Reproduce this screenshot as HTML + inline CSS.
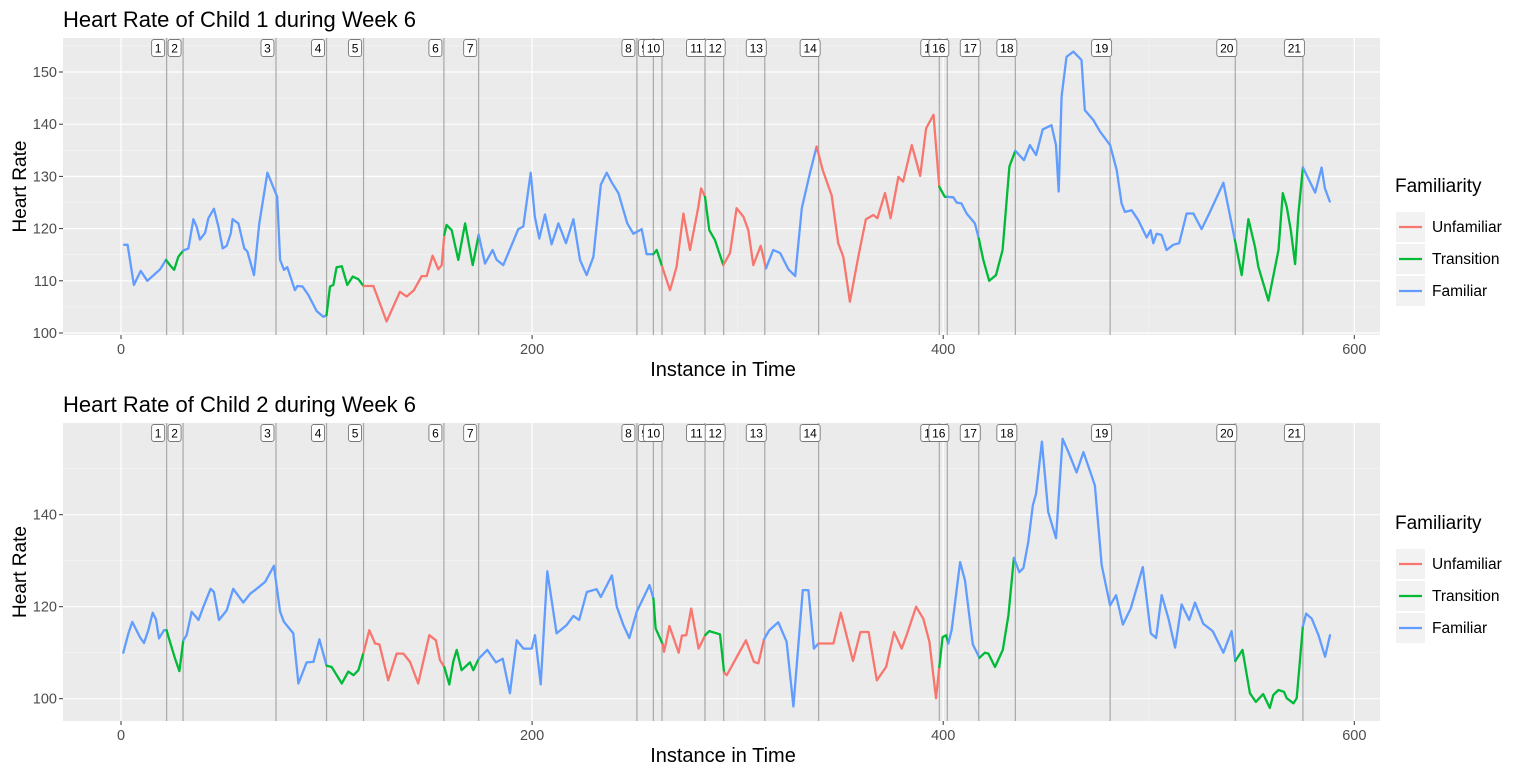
<!DOCTYPE html>
<html><head><meta charset="utf-8">
<style>
html,body{margin:0;padding:0;background:#fff;}
svg{display:block;font-family:"Liberation Sans",Arial,sans-serif;}
</style></head>
<body>
<svg id="chart" width="1535" height="772" viewBox="0 0 1535 772" xmlns="http://www.w3.org/2000/svg"></svg>
<script>
// ---- data ----
const xTicks = [0, 200, 400, 600];
const yTicks1 = [100, 110, 120, 130, 140, 150];
const yTicks2 = [100, 120, 140];
const eventX = [22.2,30.2,75.4,100,118,157.1,174,251,259,263.2,284.1,293.2,313.2,339.4,398.1,402,417.3,435.1,481.2,542.1,575];
const eventLabels = ["1","2","3","4","5","6","7","8","9","10","11","12","13","14","15","16","17","18","19","20","21"];
const categories = ["Unfamiliar","Transition","Familiar"];

const c1X = [1.5,3.2,6.3,9.6,12.8,16.5,19,21.9,
23.8,25.9,27.9,30.3,
32.8,35.2,36.8,38.4,40.9,42.5,45.2,47.4,49.5,51.4,53.4,54.3,57.1,60,61.5,64.7,67.3,71.2,76,77.4,79.3,80.9,84.6,85.8,88.3,91.1,95.2,98.4,100,
101.7,103.3,104.9,107.4,110.1,112.7,115.5,118,
122.8,129.2,135.7,139,142.5,146.3,148.7,151.6,154.4,156,157.3,
158.4,160.9,164.1,167.4,171.1,174,
177.1,180.8,182.8,186,193.3,195.7,199.3,201.3,203.5,206.3,209.5,212.8,216.5,220.1,223.3,226.5,229.8,233.4,236.3,238.8,242,246.3,249.3,253.3,255.7,259,
260.6,263.2,
267.1,270.3,273.6,276.8,280.9,282.2,284.1,
286.2,289,293,
296.3,299.5,302.8,305.2,307.6,311.2,313.8,
317.3,320.7,324.7,328,331.2,335.2,338.4,
341.4,345.7,348.9,351.4,354.6,358.7,362.4,366,368,371.7,374.4,378.2,380.5,384.7,388.8,391.7,395.3,398.1,
400.8,402,
404.9,406.5,408.9,411.4,415.4,417.3,
419.5,422.4,425.7,428.9,432.2,435.1,
439.3,442.2,445.2,448.4,452.7,454.9,456.2,457.6,460,463.3,467.3,468.9,473,476.3,481.2,484.4,486.8,488.4,491.7,494.9,499,500.9,502.2,503.8,506.2,508.7,511.9,514.8,518.4,521.7,525.7,529.8,536.3,541.9,
545.2,548.5,551.7,553.3,558.2,563.1,565.2,567.1,569.1,571.2,572.8,575,
577.6,581,584.1,585.7,588.1];
const c1Y = [116.9,116.9,109.2,111.9,110,111.3,112.2,114,
113,112.1,114.6,115.8,
116.2,121.8,120.4,117.9,119.2,122,123.8,120.4,116.2,116.7,119.1,121.8,121,116.2,115.6,111.1,121,130.7,126.1,114,112.1,112.6,108.2,109,108.9,107.3,104.2,103.1,103.4,
108.9,109.2,112.6,112.8,109.2,110.8,110.3,109,
109,102.2,107.9,107,108.2,110.9,110.9,114.8,112.2,113,118.8,
120.7,119.7,114,121,113,118.8,
113.3,115.9,114,113,119.9,120.4,130.7,122.3,118.1,122.7,117,121,117.2,121.8,114,111.1,114.6,128.4,130.7,128.8,126.8,121,119,119.9,115.1,115.1,
115.9,112.8,
108.2,112.7,122.9,115.9,124.2,127.7,126.1,
119.7,117.8,113,
115.3,123.9,122.3,119.7,113,116.7,112.4,
115.9,115.3,112.2,110.9,123.9,130.7,135.7,
131.2,126.4,117.2,114.6,106,114.6,121.8,122.6,122,126.8,122,129.9,129,136,130.1,139.2,141.8,128,
126.1,126.1,
126,125,124.8,122.9,121,118.1,
114,110,111.1,115.9,131.9,134.9,
133.1,136,134.1,139,139.8,136,127.1,145.3,152.9,153.9,152.3,142.7,140.8,138.6,136,131.2,124.8,123.2,123.5,121.6,118.3,119.7,117.2,119,118.8,115.9,116.9,117.2,122.9,122.9,119.9,123.2,128.8,117.8,
111.1,121.8,116.5,112.7,106.2,115.9,126.8,124.2,119.7,113.2,122.9,131.7,
129.6,126.9,131.7,127.7,125.2];
const c1CatRuns = ["Familiar","Transition","Familiar","Transition","Unfamiliar","Transition","Familiar","Transition","Unfamiliar","Transition","Unfamiliar","Familiar","Unfamiliar","Transition","Familiar","Transition","Familiar","Transition","Familiar"];
const c1CatLens = [8,4,29,8,11,6,26,2,7,3,7,7,18,2,6,6,34,12,5];

const c2X = [1.1,3.6,5.5,9.2,11.2,13.3,15.4,17,18.5,20.9,22.2,
23.8,26.3,28.4,30.3,
31.9,34.4,37.7,40.1,43.6,45.2,47.7,51.4,54.6,59.5,62.8,66,70.1,74.4,77.4,79.3,83.8,86.3,90.3,93.6,96.5,100,
102.5,107.4,110.6,113.1,115.5,118,
120.8,123.6,125.7,130,134.1,137.4,140.6,144.6,150,153.2,155.2,157.3,
159.7,161.7,163.3,165.7,169.8,171.4,174,
178.2,182.4,185.7,189.2,192.5,195.8,199.8,201.4,204.2,207.4,211.9,216.8,220.1,222.9,226.6,231.4,233.4,238.8,241.2,244.4,247.3,250.9,257.1,259,
260.1,263.6,
264.2,266.8,271.3,272.9,275,277.4,281,284.2,
286.2,291.4,293.4,
294.7,304,307.9,310.1,312.8,
315.4,319.8,323.8,327.1,331.7,334.4,337.1,339.3,
341.7,346.6,350.2,356.1,359.7,363.7,367.7,372.2,376.1,379.8,382.2,386.8,390.3,393.3,396.5,398.1,
399.7,401.4,402.5,
404.1,408.2,410.6,414.4,417.6,
420.3,422,425.2,429,431.7,434.4,
437,439,441.4,443.6,445.2,448,451.1,454.9,458.1,460.9,464.9,468.2,472.2,473.8,477.1,481.2,484.1,487.4,491.2,497.1,501,503.6,506.3,509.6,512.8,516,519.7,522.5,526.5,531.1,536.3,540.3,542.1,
545.6,549.2,552.1,555.7,558.9,560.6,563.1,565.8,567.1,570.4,572,575,
576.6,579.3,582.6,585.8,588.2];
const c2Y = [110,114.2,116.7,113.4,112.1,114.9,118.7,117.3,113.1,114.9,114.9,
112.4,108.7,106,112.7,
113.8,118.9,117.1,120,123.9,123.2,117.1,119.2,123.9,120.9,122.8,123.9,125.4,128.9,118.9,116.7,114.2,103.3,107.9,108,112.9,107.2,
106.9,103.3,105.9,105.1,106.2,110,
114.9,112,111.8,104,109.8,109.8,108,103.3,113.8,112.7,108.4,106.9,
103.1,108.2,110.6,106.2,107.9,106.2,108.7,
110.6,107.9,108.7,101.2,112.7,110.9,110.9,113.8,103.1,127.7,114.2,116,118,117.1,123.2,123.8,122.1,126.8,120,116,113.2,118.9,124.7,121.8,
115.3,111.8,
110.2,115.8,110,113.7,113.8,119.6,110.9,113.8,
114.7,114,105.7,
105.1,112.7,108,107.7,112.9,
114.9,116.6,112.4,98.3,123.6,123.6,110.9,112,
112,112,118.7,108.2,114.5,114.5,104,106.9,114.5,110.9,113.8,120,117.4,112.4,100.1,106.9,
113.4,113.8,112,
114.9,129.7,125.7,111.8,108.9,
110,109.8,106.9,110.6,118.1,130.6,
127.5,128.4,134.1,142,144.6,155.9,140.6,134.9,156.5,153.6,149.2,153.6,148.5,146.3,129,120.3,122.5,116.1,119.6,128.6,114.2,113.2,122.5,117.4,111.1,120.5,117.1,120.9,116.3,114.7,110,114.7,108.2,
110.6,101.2,99.3,101,98,100.8,101.9,101.5,100.1,99,100.1,115.8,
118.5,117.4,113.8,109.1,113.8];
const c2CatRuns = ["Familiar","Transition","Familiar","Transition","Unfamiliar","Transition","Familiar","Transition","Unfamiliar","Transition","Unfamiliar","Familiar","Unfamiliar","Transition","Familiar","Transition","Familiar","Transition","Familiar"];
const c2CatLens = [11,4,22,6,12,7,24,2,8,3,5,8,16,3,5,6,33,12,5];

// ---- rendering ----
const NS = "http://www.w3.org/2000/svg";
const svg = document.getElementById("chart");
const colors = {Unfamiliar:"#F8766D", Transition:"#00BA38", Familiar:"#619CFF"};
function mk(tag, attrs, parent){
  const e = document.createElementNS(NS, tag);
  for (const k in attrs) e.setAttribute(k, attrs[k]);
  (parent||svg).appendChild(e);
  return e;
}
const X0 = 63, X1 = 1380;
function xs(v){ return 121 + 2.0555 * v; }

function expandCats(runs, lens){
  const out = [];
  runs.forEach((c,i)=>{ for(let j=0;j<lens[i];j++) out.push(c); });
  return out;
}

function panel(p){
  const g = mk("g", {});
  
  
  const ys = v => p.y100 - p.k * (v - 100);
  const t = mk("text", {x:63, y:p.top-11, "font-size":22, fill:"#000"}, g);
  t.textContent = p.title;
  
  
  const bg = mk("rect", {x:X0, y:p.top, width:X1-X0, height:p.bottom-p.top, fill:"#EBEBEB"}, g);
  
  
  const step = p.yTicks[1]-p.yTicks[0];
  for (let v = p.yTicks[0]-step/2; v <= p.yTicks[p.yTicks.length-1]+step; v += step){
    const yy = ys(v); if (yy<p.top||yy>p.bottom) continue;
    mk("line", {x1:X0, x2:X1, y1:yy, y2:yy, stroke:"#F5F5F5", "stroke-width":0.6}, g);
  }
  [100,300,500].forEach(v=>mk("line",{x1:xs(v),x2:xs(v),y1:p.top,y2:p.bottom,stroke:"#F5F5F5","stroke-width":0.6},g));
  p.yTicks.forEach(v=>{
    const yy = ys(v);
    mk("line",{x1:X0,x2:X1,y1:yy,y2:yy,stroke:"#FFFFFF","stroke-width":1.2},g);
    mk("line",{x1:X0-4,x2:X0,y1:yy,y2:yy,stroke:"#333","stroke-width":1},g);
    const tl = mk("text",{x:X0-6,y:yy+5,"text-anchor":"end","font-size":14.5,fill:"#4D4D4D"},g);
    tl.textContent = v;
    
    
  });
  xTicks.forEach(v=>{
    const xx = xs(v);
    mk("line",{x1:xx,x2:xx,y1:p.top,y2:p.bottom,stroke:"#FFFFFF","stroke-width":1.2},g);
    mk("line",{x1:xx,x2:xx,y1:p.bottom,y2:p.bottom+4,stroke:"#333","stroke-width":1},g);
    const tl = mk("text",{x:xx,y:p.bottom+19,"text-anchor":"middle","font-size":14.5,fill:"#4D4D4D"},g);
    tl.textContent = v;
    
    
  });
  eventX.forEach((v,i)=>{
    const xx = xs(v);
    const ln = mk("line",{x1:xx,x2:xx,y1:p.top,y2:p.bottom,stroke:"#A8A8A8","stroke-width":1.2},g);
    
    
  });
  const cats = expandCats(p.runs, p.lens);
  let cur = null, pts = [];
  function flush(){
    if (pts.length>1){
      const pl = mk("polyline",{points:pts.join(" "),fill:"none",stroke:colors[cur],"stroke-width":2.3,"stroke-linejoin":"round","stroke-linecap":"round"},g);
      
      
    }
  }
  for (let i=1;i<p.xv.length;i++){
    const c = cats[i] || cats[cats.length-1];
    const a = xs(p.xv[i-1]).toFixed(1)+","+ys(p.yv[i-1]).toFixed(1);
    const b = xs(p.xv[i]).toFixed(1)+","+ys(p.yv[i]).toFixed(1);
    if (c !== cur){ flush(); cur = c; pts = [a]; }
    pts.push(b);
  }
  flush();
  eventX.forEach((v,i)=>{
    const cx = xs(v) - 8.5;
    const w = eventLabels[i].length>1 ? 20 : 13;
    const lg = mk("g",{},g);
    
    
    mk("rect",{x:cx-w/2,y:p.top+1.5,width:w,height:17,rx:2.5,fill:"#fff",stroke:"#777","stroke-width":0.9},lg);
    const tx = mk("text",{x:cx,y:p.top+14.5,"text-anchor":"middle","font-size":12,fill:"#000"},lg);
    tx.textContent = eventLabels[i];
  });
  const xt = mk("text",{x:723,y:p.bottom+41,"text-anchor":"middle","font-size":20,fill:"#000"},g);
  xt.textContent = "Instance in Time";
  
  
  const cy = (p.top+p.bottom)/2;
  const yt = mk("text",{x:0,y:0,"text-anchor":"middle","font-size":19,fill:"#000",transform:`translate(26,${cy}) rotate(-90)`},g);
  yt.textContent = "Heart Rate";
  
  
  const lg = mk("g",{},g);
  
  
  const lt = mk("text",{x:1395,y:p.legY,"font-size":19,fill:"#000"},lg);
  lt.textContent = "Familiarity";
  categories.forEach((c,i)=>{
    const yy = p.legY + 20 + i*32;
    const e = mk("g",{},lg);
    
    
    mk("rect",{x:1396,y:yy,width:29,height:30,fill:"#F2F2F2"},e);
    mk("line",{x1:1399,x2:1422,y1:yy+15,y2:yy+15,stroke:colors[c],"stroke-width":2.3},e);
    const et = mk("text",{x:1432,y:yy+20,"font-size":15.5,fill:"#000"},e);
    et.textContent = c;
  });
}

panel({name:"child-1-panel", title:"Heart Rate of Child 1 during Week 6", top:38, bottom:335, y100:333, k:5.22, yTicks:yTicks1, xv:c1X, yv:c1Y, runs:c1CatRuns, lens:c1CatLens, legY:192});
panel({name:"child-2-panel", title:"Heart Rate of Child 2 during Week 6", top:423, bottom:721, y100:698.7, k:4.6, yTicks:yTicks2, xv:c2X, yv:c2Y, runs:c2CatRuns, lens:c2CatLens, legY:529});
</script>
</body></html>
